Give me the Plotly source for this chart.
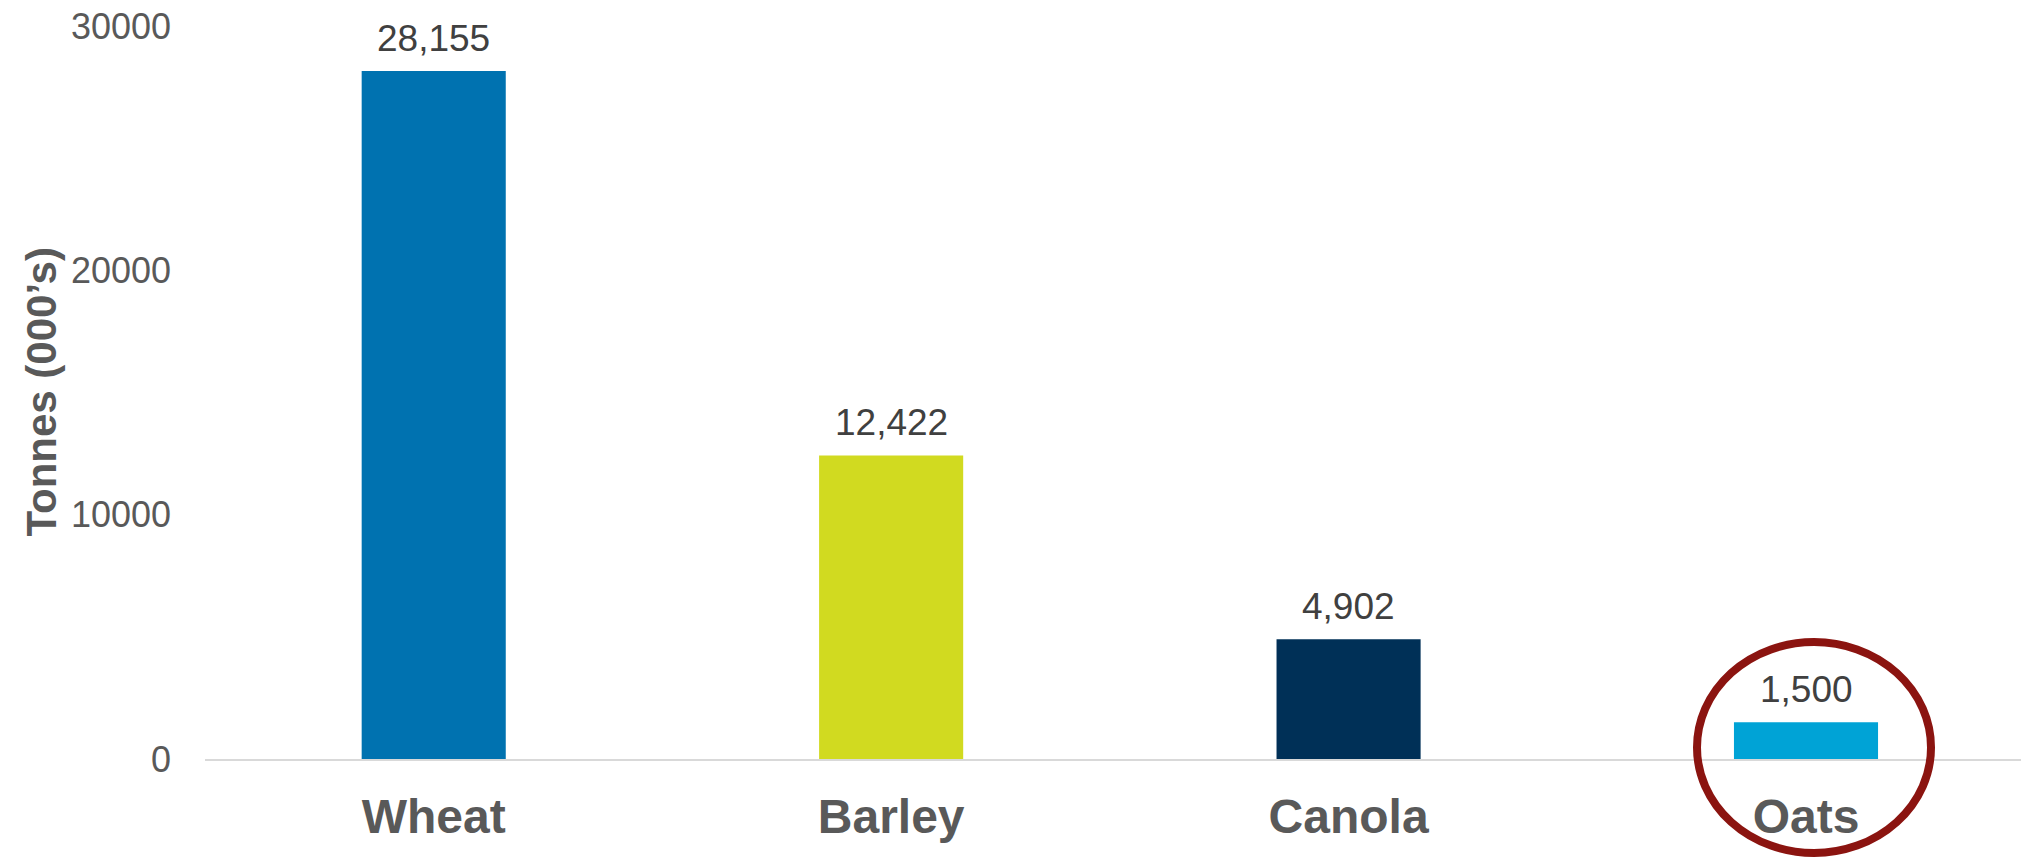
import plotly.graph_objects as go

categories = ["Wheat", "Barley", "Canola", "Oats"]
values = [28155, 12422, 4902, 1500]
colors = ["#0072B0", "#D1DA20", "#003057", "#00A3D6"]
y_ticks = [0, 10000, 20000, 30000]
highlight = "Oats"

x_range = [-0.5, 3.47]
y_range = [0, 30000]

fig = go.Figure()
fig.add_trace(go.Bar(
    x=categories, y=values, marker=dict(color=colors, line=dict(width=0)),
    width=0.315, hoverinfo="x+y",
))

for c, v in zip(categories, values):
    fig.add_annotation(x=c, y=v, text=f"{v:,}", showarrow=False,
                       yanchor="bottom", yshift=10,
                       font=dict(family="Liberation Sans, Arial", size=37, color="#404040"))

fig.add_annotation(xref="paper", yref="paper", x=-0.0903, y=0.5,
                   text="<b>Tonnes (000’s)</b>", textangle=-90, showarrow=False,
                   xanchor="center", yanchor="middle",
                   font=dict(family="Liberation Sans, Arial", size=42, color="#595959"))

hi = categories.index(highlight)
xp = (hi - x_range[0]) / (x_range[1] - x_range[0])
fig.add_shape(type="circle", xref="paper", yref="paper",
              xsizemode="pixel", ysizemode="pixel", xanchor=xp, yanchor=0,
              x0=-109, x1=125, y0=-94, y1=117,
              line=dict(color="#8B1410", width=8), layer="above")

fig.update_layout(
    width=2021, height=861,
    margin=dict(l=205, r=0, t=26, b=102, autoexpand=False),
    plot_bgcolor="white", paper_bgcolor="white",
    showlegend=False,
    font=dict(family="Liberation Sans, Arial", color="#595959"),
    xaxis=dict(range=x_range, showgrid=False, showline=True, linecolor="#D9D9D9",
               linewidth=2, ticks="", ticklabelstandoff=14, automargin=False,
               tickfont=dict(size=48, color="#595959", family="Liberation Sans, Arial", weight="bold")),
    yaxis=dict(range=y_range, tickvals=y_ticks, tickformat="d", showgrid=False,
               zeroline=False, showline=False, ticks="", ticklabelstandoff=33, automargin=False,
               tickfont=dict(size=36, color="#595959", family="Liberation Sans, Arial")),
)

fig.write_html("out.html", config={"displayModeBar": False},
               post_script="document.body.style.margin='0';document.body.style.overflow='hidden';")
